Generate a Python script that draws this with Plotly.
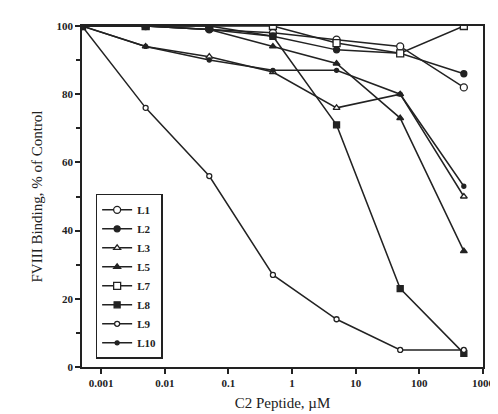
import plotly.graph_objects as go

conc = [0.0005, 0.005, 0.05, 0.5, 5, 50, 500]

series_names = ["L1", "L2", "L3", "L5", "L7", "L8", "L9", "L10"]
L1 = [100, 100, 99, 98, 96, 94, 82]
L2 = [100, 100, 99, 97, 93, 92, 86]
L3 = [100, 94, 91, 86.5, 76, 80, 50]
L5 = [100, 100, 99, 94, 89, 73, 34]
L7 = [100, 100, 100, 100, 95, 92, 100]
L8 = [100, 100, 100, 97, 71, 23, 4]
L9 = [100, 76, 56, 27, 14, 5, 5]
L10 = [100, 94, 90, 87, 87, 80, 53]

values = [L1, L2, L3, L5, L7, L8, L9, L10]
symbols = ["circle", "circle", "triangle-up", "triangle-up",
           "square", "square", "circle", "circle"]
hollow = [True, False, True, False, True, False, True, False]
sizes = [7, 6, 6, 6, 7, 6, 5, 4]

ink = "#222222"
fig = go.Figure()
for name, ys, sym, hol, sz in zip(series_names, values, symbols, hollow, sizes):
    fig.add_trace(go.Scatter(
        x=conc, y=ys, name=name, mode="lines+markers",
        line=dict(color=ink, width=1.5),
        marker=dict(symbol=sym, size=sz, color="white" if hol else ink,
                    line=dict(color=ink, width=1.3)),
    ))

fig.update_layout(
    width=498, height=414,
    margin=dict(l=74, r=11, t=18, b=55),
    paper_bgcolor="white", plot_bgcolor="white",
    font=dict(family="Liberation Serif", size=12, color=ink),
    showlegend=True,
    legend=dict(
        x=0.034, y=0.024, xanchor="left", yanchor="bottom",
        bordercolor=ink, borderwidth=1.5, bgcolor="white",
        font=dict(family="Liberation Serif", size=11, color=ink, weight="bold"),
        itemwidth=30, tracegroupgap=0,
    ),
)
fig.update_xaxes(
    type="log", range=[-3.301, 3],
    tickvals=[0.001, 0.01, 0.1, 1, 10, 100, 1000],
    ticktext=["0.001", "0.01", "0.1", "1", "10", "100", "1000"],
    tickfont=dict(size=11, weight="bold"),
    ticks="outside", ticklen=5, tickwidth=1.5, tickcolor=ink,
    showline=True, linecolor=ink, linewidth=1.5, mirror=True,
    showgrid=False, zeroline=False,
    title=dict(text="C2 Peptide, µM", font=dict(size=15), standoff=10),
)
fig.update_yaxes(
    range=[0, 100],
    tickvals=[0, 20, 40, 60, 80, 100],
    tickfont=dict(size=11, weight="bold"),
    ticks="outside", ticklen=5, tickwidth=1.5, tickcolor=ink,
    minor=dict(tickvals=[10, 30, 50, 70, 90], ticks="outside", ticklen=4, tickcolor=ink),
    showline=True, linecolor=ink, linewidth=1.5, mirror=True,
    showgrid=False, zeroline=False,
    title=dict(text="FVIII Binding, % of Control", font=dict(size=15), standoff=10),
)

fig.write_html("out.html")
